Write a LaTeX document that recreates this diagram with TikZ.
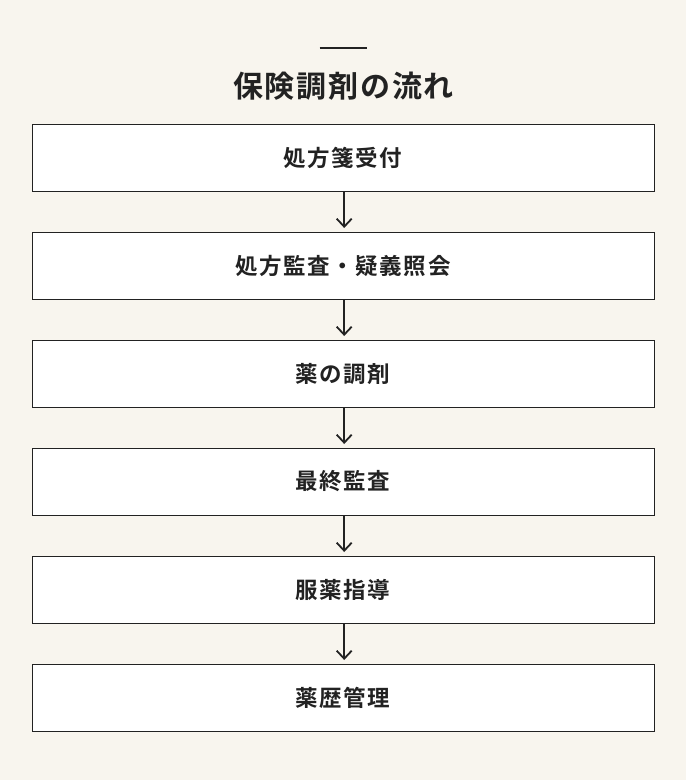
\documentclass[tikz,border=0pt]{standalone}
\usepackage{fontspec}
\setmainfont{Noto Sans CJK JP}[BoldFont={* Bold}]
\newfontfamily\jpbold{Noto Sans CJK JP Bold}
\usetikzlibrary{arrows.meta}
\definecolor{bgcol}{HTML}{F8F5EE}
\definecolor{inkcol}{HTML}{222222}
\begin{document}
\begin{tikzpicture}[x=1pt,y=-1pt,
  stepbox/.style={draw=inkcol,line width=1pt,fill=white,minimum width=622pt,minimum height=67pt,inner sep=0pt,
    font={\jpbold\fontsize{22.5pt}{26pt}\selectfont\addfontfeatures{LetterSpace=7}},text=inkcol},
  flowarrow/.style={draw=inkcol,line width=1.8pt,-{Straight Barb[length=8pt,width=15pt,line width=1.8pt]}},
  titletext/.style={font={\jpbold\fontsize{30pt}{34pt}\selectfont\addfontfeatures{LetterSpace=6}},text=inkcol,inner sep=0pt}]
\fill[bgcol] (0,0) rectangle (686,780);
\useasboundingbox (0,0) rectangle (686,780);
\coordinate (tl1) at (319.5,47.5);
\coordinate (tl2) at (366.5,47.5);
\draw[inkcol,line width=2pt] (tl1) -- (tl2);
\node[titletext] (title) at (343.5,86) {保険調剤の流れ};
\node[stepbox] (s1) at (343,157.5) {\raisebox{-0.5pt}{処方箋受付}};
\node[stepbox] (s2) at (343,265.5) {\raisebox{-0.5pt}{処方監査・疑義照会}};
\node[stepbox] (s3) at (343,373.5) {\raisebox{-0.5pt}{薬の調剤}};
\node[stepbox] (s4) at (343,481.5) {\raisebox{-0.5pt}{最終監査}};
\node[stepbox] (s5) at (343,589.5) {\raisebox{-0.5pt}{服薬指導}};
\node[stepbox] (s6) at (343,697.5) {\raisebox{-0.5pt}{薬歴管理}};
\foreach \a/\b in {s1/s2,s2/s3,s3/s4,s4/s5,s5/s6}{
  \draw[flowarrow] ([xshift=1.2pt]\a.south) -- ([xshift=1.2pt,yshift=3.5pt]\b.north);
}
\end{tikzpicture}
\end{document}
